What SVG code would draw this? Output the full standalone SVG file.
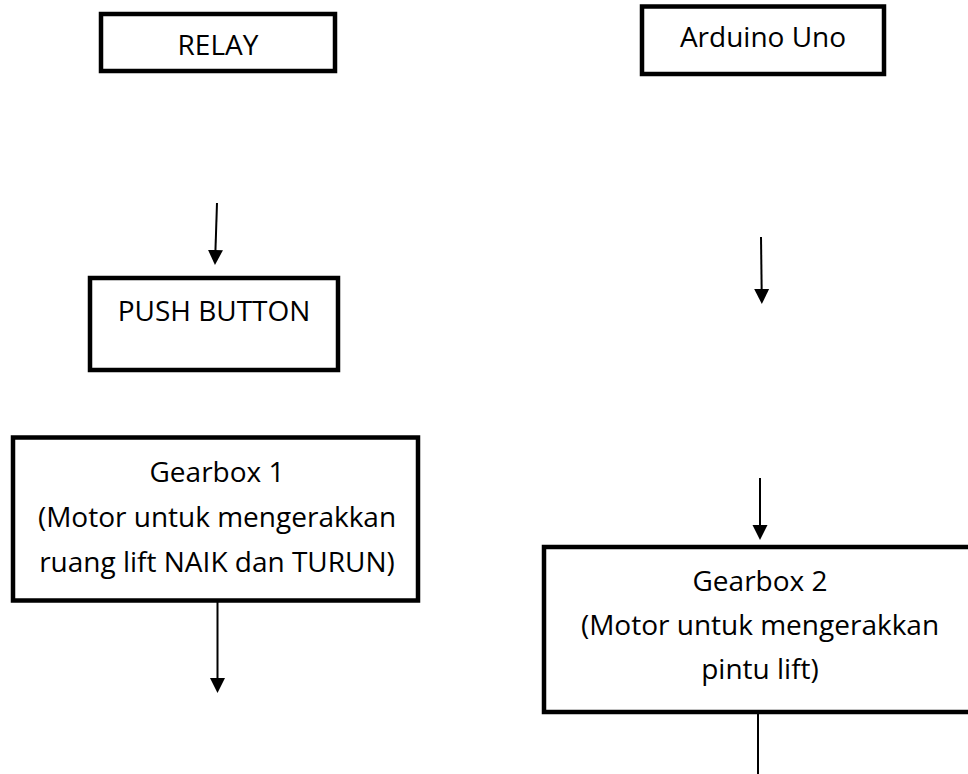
<svg xmlns="http://www.w3.org/2000/svg" width="968" height="774" viewBox="0 0 968 774">
  <style>
    .box { fill: #ffffff; stroke: #000000; stroke-width: 4.5; stroke-linejoin: miter; }
    .lbl { font-family: "Open Sans", "Noto Sans", "Liberation Sans", sans-serif; font-size: 28px; fill: #000000; text-anchor: middle; }
    .conn { stroke: #000000; stroke-width: 2; fill: none; }
  </style>
  <defs>
    <marker id="ah" markerUnits="userSpaceOnUse" markerWidth="16" markerHeight="16" viewBox="0 0 16 16" refX="11" refY="8" orient="auto">
      <path d="M0,0.5 L15,8 L0,15.5 z" fill="#000000"/>
    </marker>
  </defs>
  <rect x="0" y="0" width="968" height="774" fill="#ffffff"/>

  <g id="relay">
    <rect class="box" x="101" y="14" width="234" height="57"/>
    <text class="lbl" x="218" y="55">RELAY</text>
  </g>
  <g id="arduino">
    <rect class="box" x="642" y="6.5" width="242" height="67.5"/>
    <text class="lbl" x="763" y="47">Arduino Uno</text>
  </g>
  <g id="pushbutton">
    <rect class="box" x="90" y="278" width="248" height="92"/>
    <text class="lbl" x="214" y="321">PUSH BUTTON</text>
  </g>
  <g id="gearbox1">
    <rect class="box" x="13" y="437.5" width="405" height="163"/>
    <text class="lbl" x="217" y="482">Gearbox 1</text>
    <text class="lbl" x="217" y="527">(Motor untuk mengerakkan</text>
    <text class="lbl" x="217" y="572">ruang lift NAIK dan TURUN)</text>
  </g>
  <g id="gearbox2">
    <rect class="box" x="544" y="547" width="432" height="165"/>
    <text class="lbl" x="760" y="591">Gearbox 2</text>
    <text class="lbl" x="760" y="635">(Motor untuk mengerakkan</text>
    <text class="lbl" x="760" y="679">pintu lift)</text>
  </g>

  <g id="connectors">
    <line class="conn" x1="217" y1="203" x2="215.1" y2="261" marker-end="url(#ah)"/>
    <line class="conn" x1="761" y1="237" x2="761.8" y2="300" marker-end="url(#ah)"/>
    <line class="conn" x1="217.5" y1="601" x2="217.5" y2="689" marker-end="url(#ah)"/>
    <line class="conn" x1="760" y1="478" x2="760" y2="536" marker-end="url(#ah)"/>
    <line class="conn" x1="758" y1="713" x2="758" y2="774"/>
  </g>
</svg>
